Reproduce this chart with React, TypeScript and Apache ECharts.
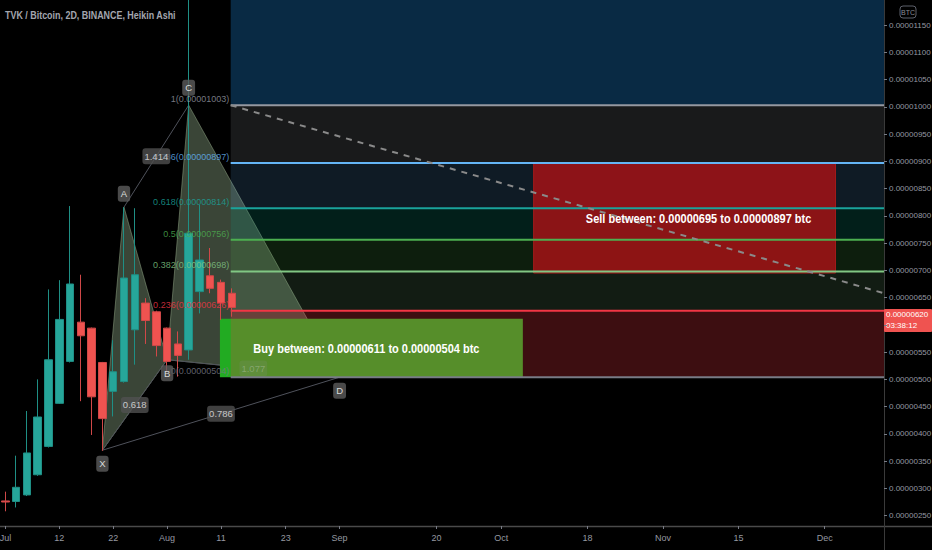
import React, { useEffect, useRef } from "react";
import * as echarts from "echarts";

const FONT = "'Liberation Sans', Arial, sans-serif";

// ---- time axis (2D bars) ----
const firstBarDate = Date.UTC(2021, 6, 2);
const barDays = 2;
const barCount = 82;
const axisTickIndex = [0, 5, 10, 15, 20, 26, 31, 40, 46, 54, 61, 68, 76];
const axisTickLabels = ["Jul", "12", "22", "Aug", "11", "23", "Sep", "20", "Oct", "18", "Nov", "15", "Dec"];

// ---- price axis (satoshi units, 1e-8 BTC) ----
const priceTicks = [250, 300, 350, 400, 450, 500, 550, 600, 650, 700, 750, 800, 850, 900, 950, 1000, 1050, 1100, 1150];
const priceMin = 231;
const priceMax = 1196;

// ---- Heikin Ashi candles ----
const haOpen = [277, 276, 288, 325, 377, 456, 533, 605, 594, 531, 478, 496, 591, 640, 624, 594, 565, 554, 661, 690, 678, 658];
const haClose = [275, 302, 365, 431, 536, 610, 675, 580, 468, 428, 514, 686, 692, 608, 562, 533, 544, 768, 719, 667, 640, 632];
const haLow = [258, 265, 286, 323, 375, 455, 531, 460, 398, 369, 432, 494, 527, 565, 542, 515, 505, 536, 621, 658, 609, 615];
const haHigh = [294, 360, 442, 500, 665, 682, 818, 692, 595, 532, 572, 816, 814, 649, 626, 595, 588, 1400, 820, 741, 683, 667];

// ---- Fibonacci retracement ----
const fibRatios = ["1", "0.786", "0.618", "0.5", "0.382", "0.236", "0"];
const fibPrices = [1003, 897, 814, 756, 698, 626, 504];
const fibLineColors = ["#9598a1", "#64b5f6", "#1aa39b", "#4caf50", "#81c784", "#f23645", "#787b86"];
const fibTopPrice = 1311; // 1.618 level (off chart)
const fibBandColors = [
  "rgba(33,150,243,0.28)",
  "rgba(149,152,161,0.17)",
  "rgba(100,181,246,0.15)",
  "rgba(8,153,129,0.2)",
  "rgba(76,175,80,0.17)",
  "rgba(129,199,132,0.14)",
  "rgba(242,54,69,0.25)",
];
const fibStartBar = 20.9;
const fibEndBar = barCount - 0.5;
const trendStart = [20.9, 1003];
const trendEnd = [81.5, 658];

// ---- XABCD pattern ----
const patternNames = ["X", "A", "B", "C", "D"];
const patternBar = [9, 11, 15, 17, 31];
const patternPrice = [370, 816, 536, 1003, 504];
const patternLabelSide = ["bottom", "top", "bottom", "top", "bottom"];
const triangleA = [0, 2];
const triangleB = [1, 3];
const triangleC = [2, 4];
const ratioFrom = [0, 1, 0, 2];
const ratioTo = [2, 3, 4, 4];
const ratioText = ["0.618", "1.414", "0.786", "1.077"];

// ---- trade zones ----
const zoneText = ["Buy between: 0.00000611 to 0.00000504 btc", "Sell between: 0.00000695 to 0.00000897 btc"];
const zoneFromBar = [19.9, 49];
const zoneToBar = [48, 77];
const zoneLow = [504, 695];
const zoneHigh = [611, 897];

const lastPrice = 620;
const countdown = "03:38:12";
const title = "TVK / Bitcoin, 2D, BINANCE, Heikin Ashi";

const fmtPrice = (v: number) => (v / 1e8).toFixed(8);

export default function App() {
  const ref = useRef<HTMLDivElement>(null);
  useEffect(() => {
    const chart = echarts.init(ref.current!, null, { renderer: "svg" });

    const categories: string[] = [];
    for (let i = 0; i < barCount; i++) {
      categories.push(new Date(firstBarDate + i * barDays * 86400000).toISOString().slice(0, 10));
    }
    const tickSet = new Set(axisTickIndex);
    // the last-price tag on the axis hides the label that lies under it
    const priceLabelTicks = priceTicks.filter((v) => Math.abs(v - lastPrice) > 25);

    const candles = haOpen.map((o, i) => [o, haClose[i], haLow[i], haHigh[i]]);

    const triangles = triangleA.map((a, k) => {
      const ids = [a, triangleB[k], triangleC[k]];
      return ids.flatMap((id) => [patternBar[id], patternPrice[id]]);
    });
    const patternLines = ratioFrom.map((f, k) => [patternBar[f], patternPrice[f], patternBar[ratioTo[k]], patternPrice[ratioTo[k]]]);

    const bandData = fibPrices.map((p, i) => [fibStartBar, i === 0 ? fibTopPrice : fibPrices[i - 1], fibEndBar, p]);
    const lineData = fibPrices.map((p) => [fibStartBar, p, fibEndBar, p]);

    const rectItem = (color: (i: number) => string, stroke?: string) => (params: any, api: any) => {
      const p1 = api.coord([api.value(0), api.value(1)]);
      const p2 = api.coord([api.value(2), api.value(3)]);
      return {
        type: "rect",
        shape: {
          x: Math.min(p1[0], p2[0]),
          y: Math.min(p1[1], p2[1]),
          width: Math.abs(p2[0] - p1[0]),
          height: Math.abs(p2[1] - p1[1]),
        },
        style: { fill: color(params.dataIndex), stroke: stroke || "none", lineWidth: 1 },
      };
    };

    const option: any = {
      animation: false,
      backgroundColor: "#000",
      grid: { left: 0, right: 48, top: 0, bottom: 24, containLabel: false, outerBoundsMode: "none" },
      xAxis: [
        {
          type: "category",
          data: categories,
          boundaryGap: true,
          axisLine: { show: false, onZero: false },
          splitLine: { show: false },
          axisTick: {
            show: true,
            alignWithLabel: true,
            interval: (i: number) => tickSet.has(i),
            length: 3,
            lineStyle: { color: "#787b86" },
          },
          axisLabel: {
            interval: (i: number) => tickSet.has(i),
            formatter: (_v: string, i: number) => axisTickLabels[axisTickIndex.indexOf(i)] || "",
            color: "#9598a1",
            fontSize: 9,
            fontFamily: FONT,
            margin: 7,
          },
        },
        { type: "value", min: -0.5, max: barCount - 0.5, show: false, axisLine: { onZero: false } },
      ],
      yAxis: {
        type: "value",
        position: "right",
        min: priceMin,
        max: priceMax,
        splitLine: { show: false },
        axisLine: { show: false, onZero: false },
        axisTick: { show: true, customValues: priceTicks, length: 3, lineStyle: { color: "#787b86" } },
        axisLabel: {
          customValues: priceLabelTicks,
          formatter: (v: number) => fmtPrice(v),
          color: "#9598a1",
          fontSize: 8,
          fontFamily: FONT,
          margin: 5,
        },
      },
      series: [
        {
          type: "custom",
          name: "triangles",
          xAxisIndex: 1,
          z: 1,
          silent: true,
          clip: true,
          data: triangles,
          encode: { x: [0, 2, 4], y: [1, 3, 5] },
          renderItem: (_p: any, api: any) => {
            const pts = [0, 2, 4].map((d) => api.coord([api.value(d), api.value(d + 1)]));
            return {
              type: "polygon",
              shape: { points: pts },
              style: { fill: "rgba(105,125,100,0.55)", stroke: "rgba(140,160,130,0.55)", lineWidth: 1 },
            };
          },
        },
        {
          type: "custom",
          name: "patternLines",
          xAxisIndex: 1,
          z: 2,
          silent: true,
          data: patternLines,
          encode: { x: [0, 2], y: [1, 3] },
          renderItem: (_p: any, api: any) => {
            const a = api.coord([api.value(0), api.value(1)]);
            const b = api.coord([api.value(2), api.value(3)]);
            return {
              type: "line",
              shape: { x1: a[0], y1: a[1], x2: b[0], y2: b[1] },
              style: { stroke: "#4f525b", lineWidth: 1 },
            };
          },
        },
        {
          type: "custom",
          name: "buyZone",
          xAxisIndex: 1,
          z: 3,
          silent: true,
          data: [[zoneFromBar[0], zoneHigh[0], zoneToBar[0], zoneLow[0]]],
          encode: { x: [0, 2], y: [1, 3] },
          renderItem: rectItem(() => "#22ab22"),
        },
        {
          type: "custom",
          name: "fibBands",
          xAxisIndex: 1,
          z: 4,
          silent: true,
          clip: true,
          data: bandData,
          encode: { x: [0, 2], y: [1, 3] },
          renderItem: rectItem((i) => fibBandColors[i]),
        },
        {
          type: "custom",
          name: "sellZone",
          xAxisIndex: 1,
          z: 5,
          silent: true,
          data: [[zoneFromBar[1], zoneHigh[1], zoneToBar[1], zoneLow[1]]],
          encode: { x: [0, 2], y: [1, 3] },
          renderItem: rectItem(() => "rgba(170,18,22,0.82)", "#a31b1b"),
        },
        {
          type: "custom",
          name: "fibLines",
          xAxisIndex: 1,
          z: 6,
          silent: true,
          data: lineData,
          encode: { x: [0, 2], y: [1, 3] },
          renderItem: (params: any, api: any) => {
            const a = api.coord([api.value(0), api.value(1)]);
            const b = api.coord([api.value(2), api.value(3)]);
            return {
              type: "line",
              shape: { x1: a[0], y1: a[1], x2: b[0], y2: b[1] },
              style: { stroke: fibLineColors[params.dataIndex], lineWidth: 2 },
            };
          },
        },
        {
          type: "custom",
          name: "trend",
          xAxisIndex: 1,
          z: 6,
          silent: true,
          clip: true,
          data: [[trendStart[0], trendStart[1], trendEnd[0], trendEnd[1]]],
          encode: { x: [0, 2], y: [1, 3] },
          renderItem: (_p: any, api: any) => {
            const a = api.coord([api.value(0), api.value(1)]);
            const b = api.coord([api.value(2), api.value(3)]);
            return {
              type: "line",
              shape: { x1: a[0], y1: a[1], x2: b[0], y2: b[1] },
              style: { stroke: "#8a8a8a", lineWidth: 2, lineDash: [6, 6] },
            };
          },
        },
        {
          type: "candlestick",
          name: "TVKBTC",
          xAxisIndex: 0,
          z: 7,
          silent: true,
          barWidth: 8,
          data: candles,
          itemStyle: {
            color: "#26a69a",
            color0: "#ef5350",
            borderColor: "#1f8f85",
            borderColor0: "#d04848",
            borderWidth: 1,
          },
        },
        {
          type: "custom",
          name: "zoneText",
          xAxisIndex: 1,
          z: 9,
          silent: true,
          data: zoneText.map((_t, i) => [zoneFromBar[i], zoneHigh[i], zoneToBar[i], zoneLow[i]]),
          encode: { x: [0, 2], y: [1, 3] },
          renderItem: (params: any, api: any) => {
            const a = api.coord([api.value(0), api.value(1)]);
            const b = api.coord([api.value(2), api.value(3)]);
            const dx = params.dataIndex === 0 ? -5 : 14;
            return {
              type: "text",
              x: (a[0] + b[0]) / 2 + dx,
              y: (a[1] + b[1]) / 2,
              scaleX: 0.88,
              style: {
                text: zoneText[params.dataIndex],
                fill: "#ffffff",
                font: `bold 12.5px ${FONT}`,
                align: "center",
                verticalAlign: "middle",
                textAlign: "center",
                textVerticalAlign: "middle",
              },
            };
          },
        },
        {
          type: "scatter",
          name: "fibLabels",
          xAxisIndex: 1,
          z: 9,
          silent: true,
          symbolSize: 1,
          itemStyle: { color: "rgba(0,0,0,0)" },
          data: fibPrices.map((p, i) => ({
            name: `${fibRatios[i]}(${fmtPrice(p)})`,
            value: [fibStartBar, p],
            label: { color: fibLineColors[i] },
          })),
          label: {
            show: true,
            position: "left",
            distance: 1,
            offset: [0, -6],
            formatter: "{b}",
            fontSize: 9,
            fontFamily: FONT,
          },
        },
        {
          type: "scatter",
          name: "ratioLabels",
          xAxisIndex: 1,
          z: 10,
          silent: true,
          symbolSize: 1,
          itemStyle: { color: "rgba(0,0,0,0)" },
          data: ratioText.map((t, k) => ({
            name: t,
            value: [
              (patternBar[ratioFrom[k]] + patternBar[ratioTo[k]]) / 2,
              (patternPrice[ratioFrom[k]] + patternPrice[ratioTo[k]]) / 2,
            ],
            label:
              k === 3
                ? { backgroundColor: "rgba(140,140,140,0.22)", color: "rgba(220,220,220,0.4)" }
                : {},
          })),
          label: {
            show: true,
            position: "inside",
            formatter: "{b}",
            backgroundColor: "#505050",
            color: "#e8e8e8",
            borderRadius: 3,
            padding: [3, 2],
            fontSize: 9.5,
            fontFamily: FONT,
          },
        },
        {
          type: "scatter",
          name: "pointLabels",
          xAxisIndex: 1,
          z: 11,
          silent: true,
          symbolSize: 1,
          itemStyle: { color: "rgba(0,0,0,0)" },
          data: patternNames.map((n, i) => ({
            name: n,
            value: [patternBar[i], patternPrice[i]],
            label: { position: patternLabelSide[i], distance: n === "C" ? 9 : 5 },
          })),
          label: {
            show: true,
            distance: 5,
            formatter: "{b}",
            backgroundColor: "#5d5d5d",
            color: "#ffffff",
            borderRadius: 3,
            padding: [3, 3],
            fontSize: 9.5,
            fontFamily: FONT,
          },
        },
      ],
    };

    chart.setOption(option);

    const py = chart.convertToPixel({ yAxisIndex: 0 }, lastPrice) as number;
    chart.setOption({
      graphic: [
        {
          type: "text",
          x: 5,
          y: 15,
          scaleX: 0.85,
          style: { text: title, fill: "#a3a6af", font: `bold 10.5px ${FONT}`, verticalAlign: "middle" },
        },
        { type: "line", shape: { x1: 0, y1: 526.5, x2: 932, y2: 526.5 }, style: { stroke: "#4a4a4a", lineWidth: 1.5 } },
        { type: "line", shape: { x1: 884.5, y1: 0, x2: 884.5, y2: 550 }, style: { stroke: "#3a3a3a", lineWidth: 1 } },
        {
          type: "rect",
          shape: { x: 900, y: 6, width: 16, height: 12, r: 3 },
          style: { fill: "none", stroke: "#5d606b", lineWidth: 1 },
        },
        {
          type: "text",
          x: 908,
          y: 12,
          style: { text: "BTC", fill: "#8a8d96", font: `7px ${FONT}`, align: "center", verticalAlign: "middle" },
        },
        {
          type: "rect",
          shape: { x: 884, y: py - 5, width: 48, height: 23, r: 1 },
          style: { fill: "#ef5350" },
        },
        {
          type: "text",
          x: 886,
          y: py + 1,
          style: { text: fmtPrice(lastPrice), fill: "#ffffff", font: `8px ${FONT}`, verticalAlign: "middle" },
        },
        {
          type: "text",
          x: 886,
          y: py + 12,
          style: { text: countdown, fill: "#ffffff", font: `8px ${FONT}`, verticalAlign: "middle" },
        },
      ],
    });

    return () => chart.dispose();
  }, []);
  return (
    <div
      ref={ref}
      style={{ position: "fixed", left: 0, top: 0, width: 932, height: 550, background: "#000" }}
    />
  );
}
